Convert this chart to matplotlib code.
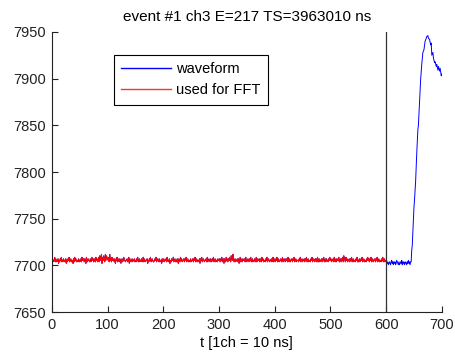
import numpy as np
import matplotlib
matplotlib.use('Agg')
import matplotlib.pyplot as plt
from matplotlib.lines import Line2D

plt.rcParams['font.family'] = ['Liberation Sans', 'DejaVu Sans']

# baseline samples t = 0..645, one digit per sample (offset index)
baseline_digits = (
    "56455746545635465745564546354657456455364756455465"
    "45647556465375465546457564654756457486593758649587"
    "65749564756546355746546535645765455645736545645564"
    "54657456455645746545563546574565445657456546455364"
    "56455647545635465574564546536547564556465745645546"
    "45564657456455463657456545564745654654657456455465"
    "56465745636547564657548659745645564635746546556475"
    "45654657456455645746556465475645546574565455645746"
    "54657456455645745654656475464556465745645554657456"
    "45564657456455465745654656474564556465745646554657"
    "56455647546465574564657486547564556465745645546574"
    "45645657456455465756465745645564657456455465745645"
    "5"
    "434234324534243423543242343524342343243534244"
)
base_level = 7705.5   # digit 5
digit_step = 1.6      # counts per digit

# pulse part
pulse_t = [646, 647, 648, 650, 651, 653, 655, 657, 658, 660, 662, 664, 666,
           668, 670, 672, 673, 675, 676, 678, 680, 681, 682, 684, 685, 687,
           688, 690, 691, 693, 694, 696, 697, 699, 700]
pulse_v = [7716, 7722, 7736, 7762, 7770, 7790, 7820, 7845, 7850, 7875, 7899,
           7915, 7928, 7931, 7940, 7943, 7945, 7946, 7943, 7942, 7936, 7938,
           7925, 7928, 7922, 7917, 7918, 7913, 7915, 7909, 7913, 7908, 7911,
           7903, 7905]

fft_end = 600

title = "event #1 ch3 E=217 TS=3963010 ns"
xlabel = "t [1ch = 10 ns]"
labels = ['waveform', 'used for FFT']
xticks = [0, 100, 200, 300, 400, 500, 600, 700]
yticks = [7650, 7700, 7750, 7800, 7850, 7900, 7950]

base_v = [base_level + (int(c) - 5) * digit_step for c in baseline_digits]
t = np.concatenate([np.arange(len(base_v)), pulse_t])
v = np.concatenate([base_v, pulse_v])

fig = plt.figure(figsize=(4.55, 3.58), dpi=100)
ax = fig.add_axes([0.114, 0.128, 0.857, 0.783])

ax.plot(t, v, color='blue', lw=0.7)
m = t <= fft_end
ax.plot(t[m], v[m], color='red', lw=0.7)
ax.plot([fft_end, fft_end], [yticks[0], yticks[-1]], color='#333333', lw=0.9)

ax.set_xlim(0, 700)
ax.set_ylim(7650, 7950)
ax.set_xticks(xticks)
ax.set_yticks(yticks)
ax.tick_params(direction='in', length=4, width=0.8, labelsize=10.5, pad=4,
               colors='#222222')
for s in ['top', 'right']:
    ax.spines[s].set_visible(False)
for s in ['left', 'bottom']:
    ax.spines[s].set_color('#222222')
    ax.spines[s].set_linewidth(0.8)

ax.set_title(title, fontsize=11, pad=8)
ax.set_xlabel(xlabel, fontsize=10.5, labelpad=3)

handles = [Line2D([], [], color='blue', lw=1.0),
           Line2D([], [], color='#ff3030', lw=1.0)]
leg = ax.legend(handles, labels, loc='upper left',
                bbox_to_anchor=(0.159, 0.918), fontsize=10.5,
                fancybox=False, framealpha=1, edgecolor='black',
                handlelength=3.4, handletextpad=0.35, borderpad=0.5,
                labelspacing=0.5, borderaxespad=0)
leg.get_frame().set_linewidth(0.8)

fig.savefig('out.png', dpi=100)
